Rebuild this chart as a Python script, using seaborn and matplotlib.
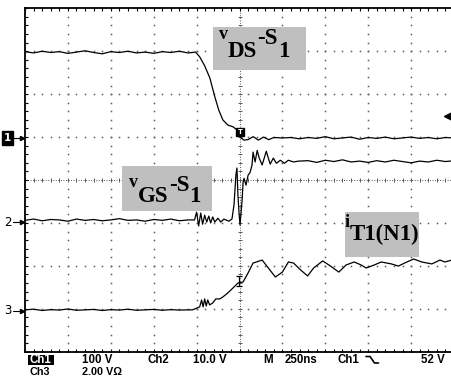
import matplotlib
matplotlib.use("Agg")
import numpy as np
import pandas as pd
import matplotlib.pyplot as plt
import seaborn as sns
from matplotlib.patches import Rectangle
from matplotlib.lines import Line2D

# ---------------- data (time in ns relative to trigger, amplitude in volts) ----------------
ch1_t = [-1250, -1200, -1150, -1100, -1050, -1000, -950, -900, -850, -800, -750, -700, -650,
         -600, -550, -500, -450, -400, -350, -300, -256, -232, -203, -173, -144, -121, -97,
         -68, -38, -15, 3, 26, 50, 80, 110, 140, 170, 200, 250, 300, 350, 400, 450, 500, 550,
         600, 650, 700, 750, 800, 850, 900, 950, 1000, 1050, 1100, 1150, 1200, 1250]
ch1_v = [201, 198, 202, 199, 201, 197, 200, 203, 199, 196, 201, 199, 202,
         198, 200, 197, 201, 199, 202, 198, 200, 189, 168, 140, 96, 65, 42,
         30, 26, 19, 2, -5, -4, 3, -5, 2, -4, 1, 0, 1, -2, 1, -1, 3, -2,
         0, 2, -3, 1, -1, 2, -2, 0, 2, -1, 1, -2, 1, 0]

ch2_t = [-1250, -1200, -1150, -1100, -1050, -1000, -950, -900, -850, -800, -750, -700, -650,
         -600, -550, -500, -450, -400, -350, -300, -262, -250, -238, -226, -215, -203, -191,
         -179, -168, -156, -144, -126, -109, -91, -62, -44, -32, -21, -15, -9, -3, 3, 15, 21,
         26, 38, 50, 62, 73, 79, 91, 103, 115, 132, 156, 168, 179, 197, 215, 238, 262, 285,
         315, 344, 400, 450, 500, 550, 600, 650, 700, 750, 800, 850, 900, 950, 1000, 1050,
         1100, 1150, 1200, 1250]
ch2_v = [0.4, 0.7, 0.3, 0.6, 0.5, 0.2, 0.7, 0.4, 0.6, 0.3, 0.5, 0.8, 0.4,
         0.5, 0.2, 0.6, 0.4, 0.7, 0.3, 0.5, 0.5, 2.3, -0.9, 2.1, -0.5, 1.6, 0.0,
         1.4, -0.2, 1.2, 0.0, 0.9, 0.0, 0.7, 0.2, 0.7, 4.0, 10.9, 12.6, 6.3, 2.3, -0.7, 5.1, 9.3,
         10.2, 8.6, 10.9, 11.6, 13.3, 16.3, 14.0, 16.7, 14.9, 13.3, 16.5, 14.9, 13.5, 14.9, 13.7,
         14.4, 13.7, 14.4, 14.0, 14.2, 14.3, 13.9, 14.4, 14.1, 14.5, 14.0, 14.2, 13.9, 14.3,
         14.0, 14.4, 14.1, 13.8, 14.2, 14.0, 14.4, 14.1, 14.3]

ch3_t = [-1250, -1200, -1150, -1100, -1050, -1000, -950, -900, -850, -800, -750, -700, -650,
         -600, -550, -500, -450, -400, -350, -300, -274, -232, -221, -212, -203, -194, -185,
         -174, -156, -138, -115, -97, -68, -38, -9, 21, 50, 79, 132, 168, 209, 250, 285, 315,
         356, 397, 432, 485, 521, 579, 621, 668, 709, 738, 785, 826, 885, 926, 962, 1015,
         1062, 1121, 1168, 1197, 1238]
ch3_v = [0.05, 0.08, 0.02, 0.06, 0.04, 0.09, 0.03, 0.05, 0.07, 0.02, 0.06, 0.04, 0.08,
         0.03, 0.05, 0.07, 0.03, 0.06, 0.04, 0.05, 0.05, 0.19, 0.51, 0.19, 0.56, 0.23, 0.51,
         0.28, 0.37, 0.56, 0.56, 0.65, 0.84, 1.07, 1.30, 1.35, 1.77, 2.23, 2.37, 2.00, 1.58,
         1.81, 2.28, 2.23, 1.91, 1.63, 2.00, 2.33, 2.14, 1.81, 2.14, 2.28, 2.14, 2.00, 2.14,
         2.28, 2.19, 2.09, 2.23, 2.42, 2.28, 2.19, 2.37, 2.28, 2.37]

channel_names = ["Ch1", "Ch2", "Ch3"]
volts_per_div = [100.0, 10.0, 2.0]
ns_per_div = 250.0
trigger_level_v = 52.0

label_1 = [("v", "small"), ("DS", "sub"), ("-S", "base"), ("1", "sub")]
label_2 = [("v", "small"), ("GS", "sub"), ("-S", "base"), ("1", "sub")]
label_3 = [("i", "small"), ("T1(N1)", "sub")]

status_row1 = ["100 V", "Ch2", "10.0 V", "M", "250ns", "Ch1", "52 V"]
status_row2 = ["Ch3", "2.00 V\u03a9"]

# ---------------- style / layout ----------------
sns.set_style("white")
plt.rcParams["font.family"] = ["DejaVu Sans"]

W, H = 451, 377
DPI = 100
fig = plt.figure(figsize=(W / DPI, H / DPI), dpi=DPI)
fig.patch.set_facecolor("white")

L, R, T, B = 25.0, 454.0, 8.3, 351.7
ax = fig.add_axes([L / W, (H - B) / H, (R - L) / W, (B - T) / H])
ax.set_xlim(0, 10)
ax.set_ylim(0, 8)
ax.set_facecolor("white")
pxd = (R - L) / 10.0  # px per division
pyd = (B - T) / 8.0

def px2d(px, py):
    return (px - L) / pxd, (B - py) / pyd

gnd_pos = [4.98, 3.02, 0.95]  # ground marker positions in divisions

# grid dots
gcol = "#5a5a5a"
sub = np.arange(0, 10.001, 0.2)
suby = np.arange(0, 8.001, 0.2)
for i in range(1, 10):
    if i == 5:
        continue
    ax.plot(np.full_like(suby, i), suby, ls="none", marker="s", ms=1.1, mew=0, color=gcol, zorder=1)
for j in range(1, 8):
    if j == 4:
        continue
    ax.plot(sub, np.full_like(sub, j), ls="none", marker="s", ms=1.1, mew=0, color=gcol, zorder=1)
# centre cross-hair
ax.plot([5, 5], [0, 8], ls=(0, (1, 1.6)), lw=0.7, color=gcol, zorder=1)
ax.plot([0, 10], [4, 4], ls=(0, (1, 1.6)), lw=0.7, color=gcol, zorder=1)
ax.plot(np.full_like(suby, 5), suby, ls="none", marker="_", ms=3.0, mew=0.7, color=gcol, zorder=1)
ax.plot(sub, np.full_like(sub, 4), ls="none", marker="|", ms=3.0, mew=0.7, color=gcol, zorder=1)
# frame ticks
ax.plot(sub, np.full_like(sub, 8), ls="none", marker="|", ms=4.5, mew=0.8, color="black", zorder=2)
ax.plot(sub, np.full_like(sub, 0), ls="none", marker="|", ms=4.5, mew=0.8, color="black", zorder=2)
ax.plot(np.full_like(suby, 0), suby, ls="none", marker="_", ms=4.5, mew=0.8, color="black", zorder=2)

for s in ["top", "left", "bottom"]:
    ax.spines[s].set_visible(True)
    ax.spines[s].set_color("black")
    ax.spines[s].set_linewidth(1.3)
ax.spines["right"].set_visible(False)
ax.set_xticks([])
ax.set_yticks([])

# gray label boxes (pixel geometry)
def box(x0, y0, x1, y1):
    dx0, dy1 = px2d(x0, y1)
    dx1, dy0 = px2d(x1, y0)
    ax.add_patch(Rectangle((dx0, dy1), dx1 - dx0, dy0 - dy1, facecolor="#bfbfbf",
                           edgecolor="none", zorder=3))

box(213, 27, 306, 70)
box(122, 166, 212, 211)
box(345, 212, 419, 257)

# traces
frames = []
for name, t, v, vpd, g in zip(channel_names, [ch1_t, ch2_t, ch3_t], [ch1_v, ch2_v, ch3_v],
                              volts_per_div, gnd_pos):
    t = np.asarray(t, float)
    v = np.asarray(v, float)
    frames.append(pd.DataFrame({"ch": name, "x": t / ns_per_div + 5.0, "y": g + v / vpd}))
df = pd.concat(frames, ignore_index=True)
sns.lineplot(data=df, x="x", y="y", units="ch", estimator=None, sort=False,
             color="black", lw=0.9, ax=ax, legend=False, zorder=4)
ax.set_xlabel("")
ax.set_ylabel("")
ax.set_xlim(0, 10)
ax.set_ylim(0, 8)

# trigger marker on ch1
tx, ty = px2d(240, 132)
ax.plot(tx, ty, marker="s", ms=6, color="black", zorder=5)
ax.text(tx, ty, "T", color="white", fontsize=5, fontweight="bold", ha="center", va="center", zorder=6)
# cursor "I" on ch3
cx, cy0 = px2d(239, 286)
_, cy1 = px2d(239, 276)
ax.plot([cx, cx], [cy0, cy1], color="black", lw=0.9, zorder=5)
ax.plot([cx, cx], [cy0, cy1], ls="none", marker="_", ms=5, mew=0.9, color="black", zorder=5)
# trigger level marker at right edge
rx, _ = px2d(447.5, 0)
ax.plot(rx, gnd_pos[0] + trigger_level_v / volts_per_div[0], marker="<", ms=5.5, color="black",
        clip_on=False, zorder=6)

# channel ground markers on the left
def fy(py):
    return (H - py) / H

fig.text(7.5 / W, fy(138), "1", color="white", fontsize=7.5, fontweight="bold", ha="center",
         va="center", bbox=dict(boxstyle="square,pad=0.18", fc="black", ec="black"))
fig.text(7.5 / W, fy(222), "2", color="black", fontsize=8.5, ha="center", va="center")
fig.text(7.5 / W, fy(311), "3", color="black", fontsize=8.5, ha="center", va="center")
for py in [138, 222, 311]:
    fig.add_artist(Line2D([13 / W, 22 / W], [fy(py), fy(py)], color="black", lw=0.8,
                          transform=fig.transFigure))
    fig.add_artist(Line2D([21.5 / W], [fy(py)], marker=">", ms=3, color="black", ls="none",
                          transform=fig.transFigure))

# rich serif labels
fig.canvas.draw()
renderer = fig.canvas.get_renderer()

def rich(parts, x0, base_small, base_sub, base_main):
    x = x0
    for txt, kind in parts:
        if kind == "small":
            size, base = 13, base_small
        elif kind == "sub":
            size, base = 16.5, base_sub
        else:
            size, base = 16.5, base_main
        t = fig.text(x / W, fy(base), txt, fontsize=size, family=["Liberation Serif", "DejaVu Serif"],
                     fontweight="bold", ha="left", va="baseline", color="black")
        bb = t.get_window_extent(renderer)
        x += bb.width

rich(label_1, 219, 39, 57, 44)
rich(label_2, 129, 187, 202, 191)
rich(label_3, 345, 227, 240, 240)

# status line
sfam = ["Liberation Sans", "DejaVu Sans"]
mono = {"fontsize": 8.3, "color": "black", "va": "baseline", "ha": "left", "fontweight": "bold",
        "family": sfam, "zorder": 5}
fig.add_artist(Rectangle((28 / W, fy(365.0)), 26 / W, 10.5 / H, transform=fig.transFigure,
                         facecolor="black", edgecolor="none", zorder=4))
fig.text(29.5 / W, fy(363.0), "Ch1", color="white", fontsize=8.3, va="baseline", ha="left",
         fontweight="bold", family=sfam, zorder=5)
xs1 = [82, 147, 193, 263, 285, 337, 421]
for x, s in zip(xs1, status_row1):
    fig.text(x / W, fy(363.0), s, **mono)
xs2 = [29.5, 82]
mono2 = dict(mono, fontsize=7.8)
for x, s in zip(xs2, status_row2):
    fig.text(x / W, fy(375.0), s, **mono2)
# falling-edge slope symbol
fig.add_artist(Line2D([366 / W, 370 / W, 374.5 / W, 378.5 / W],
                      [fy(356.5), fy(356.5), fy(363.0), fy(363.0)], color="black", lw=1.2,
                      transform=fig.transFigure))

fig.savefig("out.png", dpi=DPI)
